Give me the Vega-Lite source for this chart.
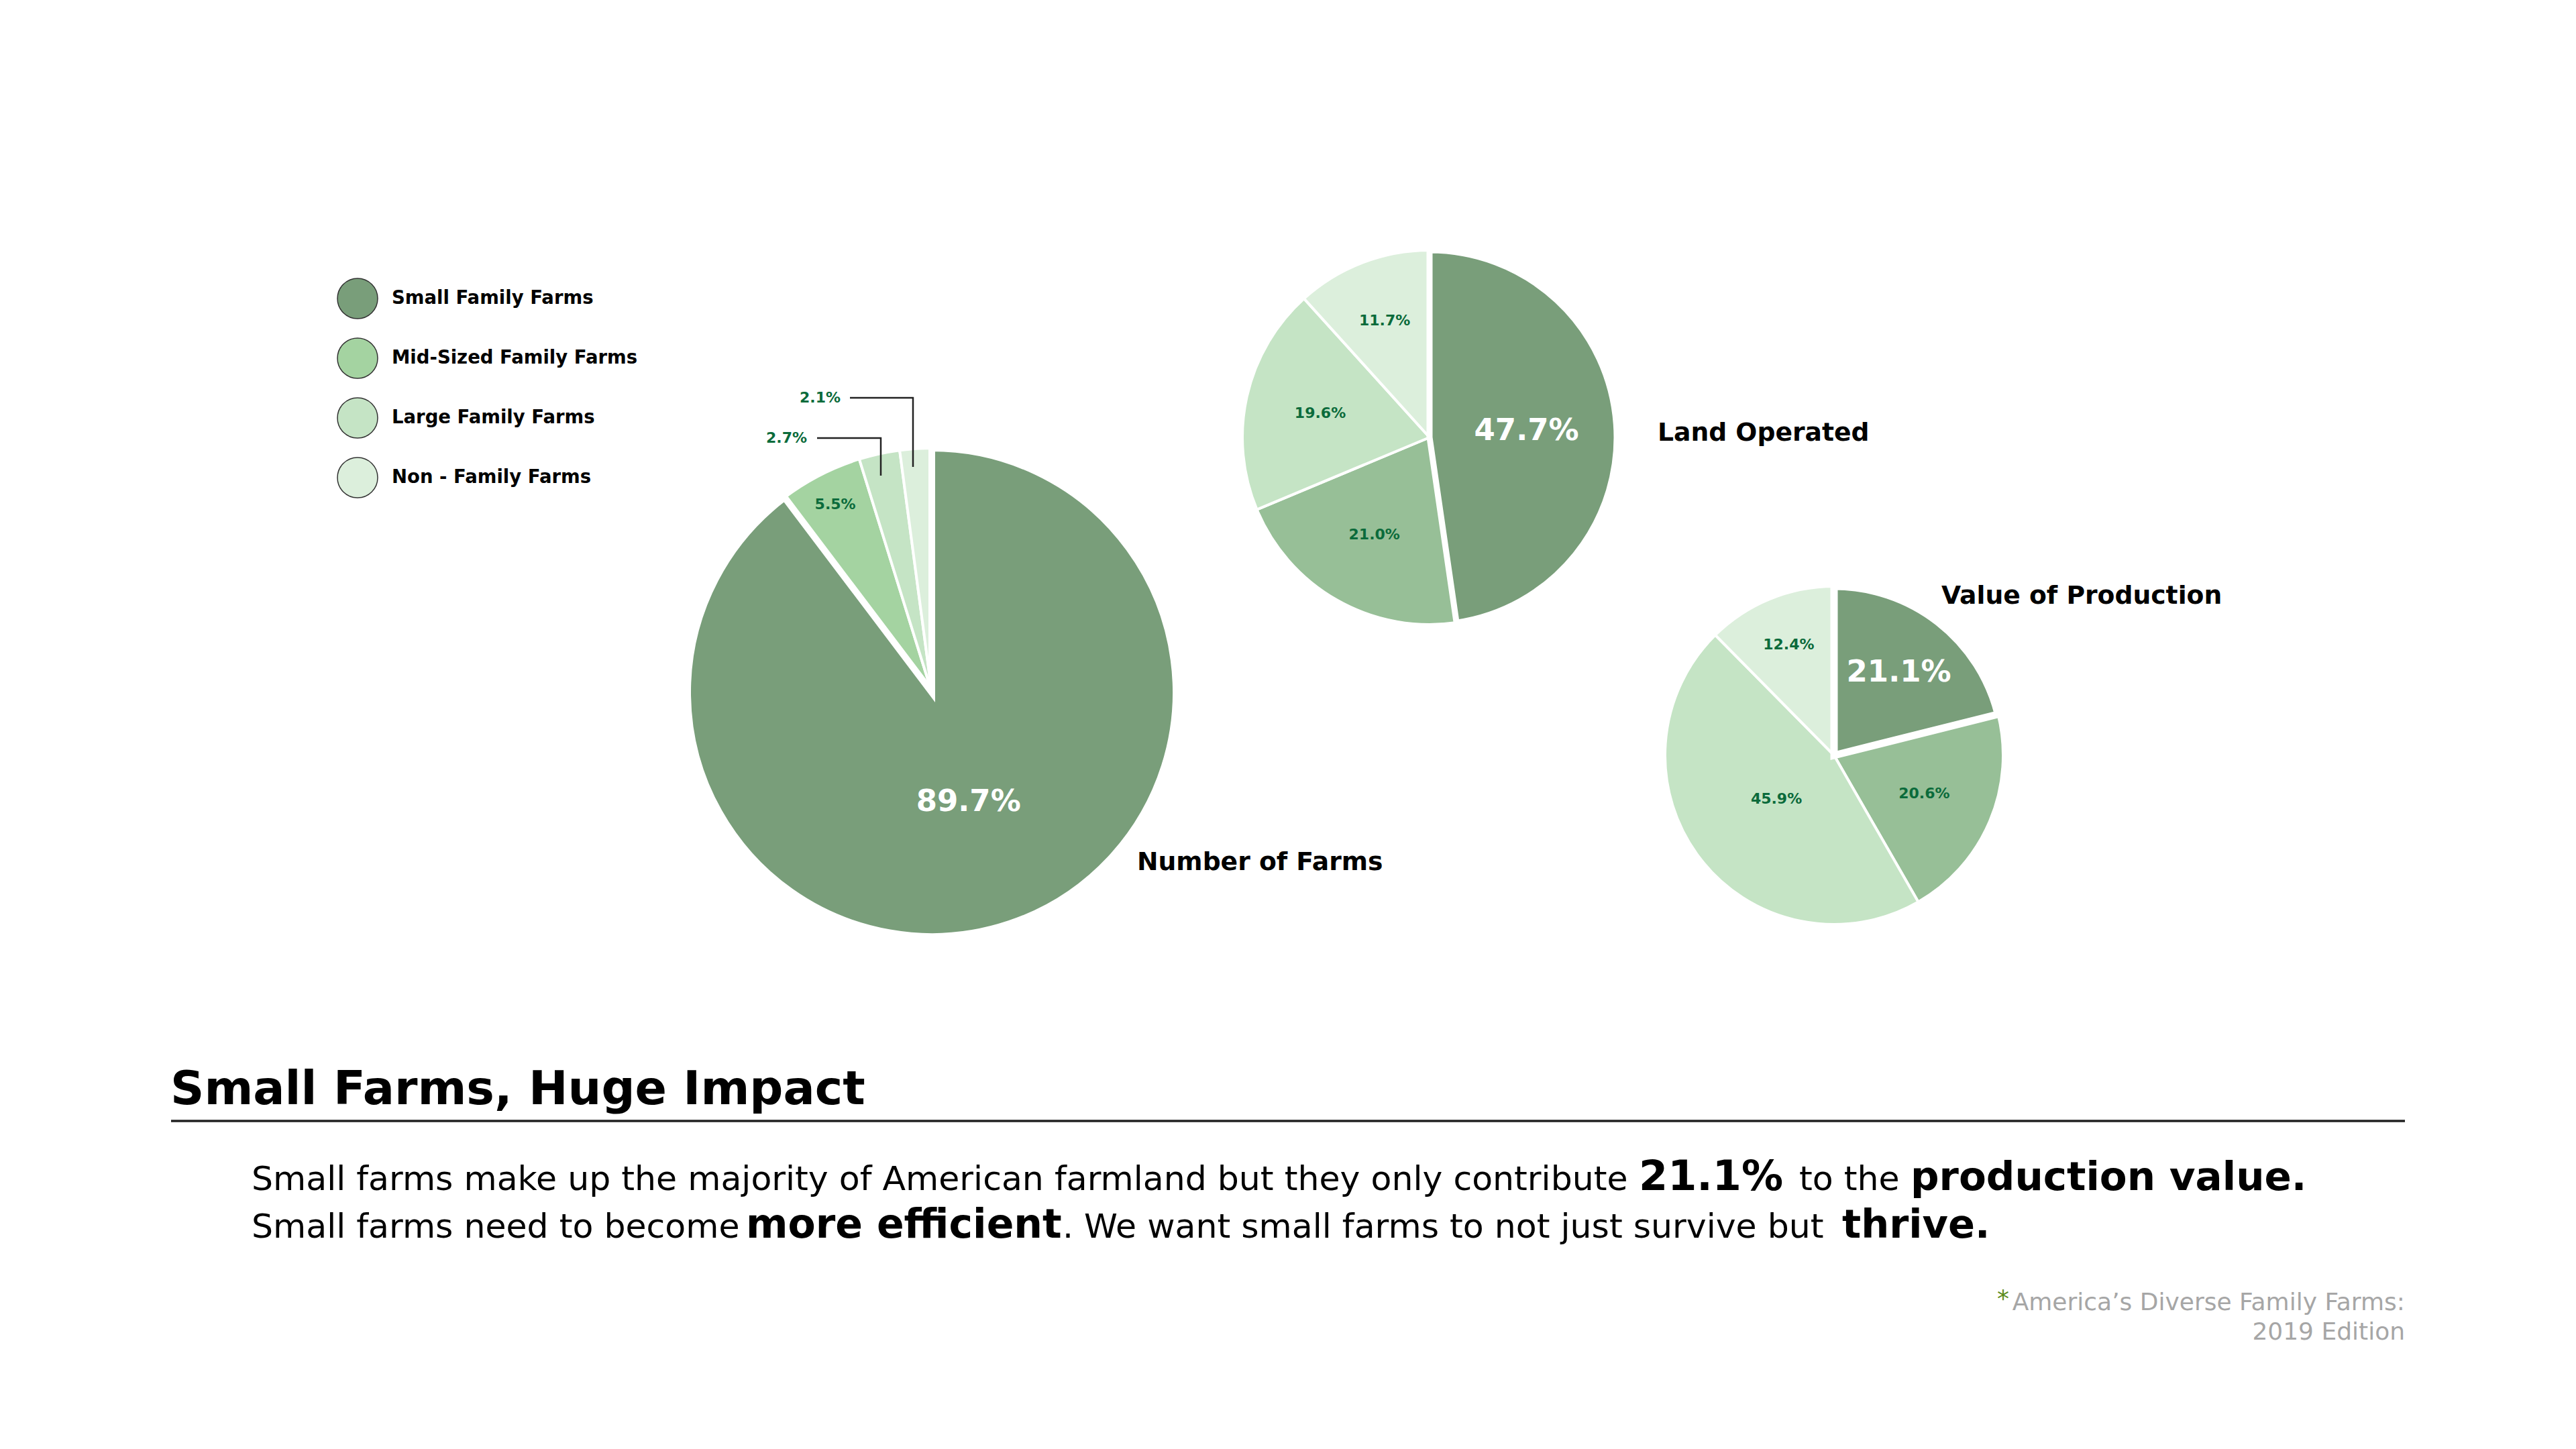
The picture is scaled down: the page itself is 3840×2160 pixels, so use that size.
{
  "$schema": "https://vega.github.io/schema/vega-lite/v6.json",
  "width": 3840,
  "height": 2160,
  "autosize": {"type": "fit", "contains": "padding"},
  "padding": 0,
  "background": "white",
  "config": {"view": {"stroke": null}, "text": {"font": "DejaVu Sans"}},
  "data": {"values": [
    {"chart": "Number of Farms", "cat": "Mid-Sized Family Farms", "k": 2, "v": 0.055},
    {"chart": "Number of Farms", "cat": "Large Family Farms", "k": 3, "v": 0.027},
    {"chart": "Number of Farms", "cat": "Non - Family Farms", "k": 4, "v": 0.021},
    {"chart": "Number of Farms", "cat": "Small Family Farms", "k": 1, "v": 0.897},
    {"chart": "Land Operated", "cat": "Mid-Sized Family Farms", "k": 2, "v": 0.210},
    {"chart": "Land Operated", "cat": "Large Family Farms", "k": 3, "v": 0.196},
    {"chart": "Land Operated", "cat": "Non - Family Farms", "k": 4, "v": 0.117},
    {"chart": "Land Operated", "cat": "Small Family Farms", "k": 1, "v": 0.477},
    {"chart": "Value of Production", "cat": "Mid-Sized Family Farms", "k": 2, "v": 0.206},
    {"chart": "Value of Production", "cat": "Large Family Farms", "k": 3, "v": 0.459},
    {"chart": "Value of Production", "cat": "Non - Family Farms", "k": 4, "v": 0.124},
    {"chart": "Value of Production", "cat": "Small Family Farms", "k": 1, "v": 0.211}
  ]},
  "resolve": {"scale": {"color": "independent"}},
  "layer": [
    {
      "transform": [{"filter": "datum.chart === 'Number of Farms'"}],
      "mark": {"type": "arc", "radius": 364, "stroke": "white"},
      "encoding": {
        "x": {"datum": 1389, "type": "quantitative", "scale": {"domain": [0, 3840], "nice": false, "zero": false}, "axis": null},
        "y": {"datum": 1032, "type": "quantitative", "scale": {"domain": [0, 2160], "nice": false, "zero": false, "reverse": true}, "axis": null},
        "theta": {"field": "v", "type": "quantitative", "stack": true, "scale": {"domain": [0, 1]}},
        "order": {"field": "k", "type": "quantitative"},
        "color": {"field": "cat", "type": "nominal",
          "scale": {"domain": ["Small Family Farms", "Mid-Sized Family Farms", "Large Family Farms", "Non - Family Farms"], "range": ["#799e7a", "#a4d3a1", "#c5e4c5", "#dcefdc"]},
          "legend": {"orient": "none", "legendX": 502, "legendY": 414, "title": null, "symbolType": "circle", "symbolSize": 3600,
            "labelFont": "DejaVu Sans", "labelFontWeight": "bold", "labelFontSize": 27.5, "labelColor": "#000000", "labelOffset": 20,
            "rowPadding": 23, "padding": 0, "labelLimit": 0, "symbolStrokeColor": "#333333", "symbolStrokeWidth": 1.5,
            "encode": {"symbols": {"update": {"stroke": {"value": "#333333"}, "strokeWidth": {"value": 1.5}, "opacity": {"value": 1}}}}}},
        "strokeWidth": {"condition": {"test": "datum.k === 1", "value": 10}, "value": 4}
      }
    },
    {
      "transform": [{"filter": "datum.chart === 'Land Operated'"}],
      "mark": {"type": "arc", "radius": 279, "stroke": "white"},
      "encoding": {
        "x": {"datum": 2131, "type": "quantitative", "scale": {"domain": [0, 3840], "nice": false, "zero": false}, "axis": null},
        "y": {"datum": 652, "type": "quantitative", "scale": {"domain": [0, 2160], "nice": false, "zero": false, "reverse": true}, "axis": null},
        "theta": {"field": "v", "type": "quantitative", "stack": true, "scale": {"domain": [0, 1]}},
        "order": {"field": "k", "type": "quantitative"},
        "color": {"field": "cat", "type": "nominal",
          "scale": {"domain": ["Small Family Farms", "Mid-Sized Family Farms", "Large Family Farms", "Non - Family Farms"], "range": ["#799e7a", "#97bf97", "#c5e4c5", "#dcefdc"]},
          "legend": null},
        "strokeWidth": {"condition": {"test": "datum.k === 1", "value": 9}, "value": 4}
      }
    },
    {
      "transform": [{"filter": "datum.chart === 'Value of Production'"}],
      "mark": {"type": "arc", "radius": 252, "stroke": "white"},
      "encoding": {
        "x": {"datum": 2734, "type": "quantitative", "scale": {"domain": [0, 3840], "nice": false, "zero": false}, "axis": null},
        "y": {"datum": 1126, "type": "quantitative", "scale": {"domain": [0, 2160], "nice": false, "zero": false, "reverse": true}, "axis": null},
        "theta": {"field": "v", "type": "quantitative", "stack": true, "scale": {"domain": [0, 1]}},
        "order": {"field": "k", "type": "quantitative"},
        "color": {"field": "cat", "type": "nominal",
          "scale": {"domain": ["Small Family Farms", "Mid-Sized Family Farms", "Large Family Farms", "Non - Family Farms"], "range": ["#799e7a", "#97bf97", "#c5e4c5", "#dcefdc"]},
          "legend": null},
        "strokeWidth": {"condition": {"test": "datum.k === 1", "value": 11}, "value": 4}
      }
    },
    {
      "transform": [{"filter": "datum.chart === 'Number of Farms'"}],
      "mark": {"type": "text", "radius": 172, "fontWeight": "bold", "fontSize": 45, "color": "white", "align": "center", "baseline": "middle"},
      "encoding": {
        "x": {"datum": 1389, "type": "quantitative", "scale": {"domain": [0, 3840], "nice": false, "zero": false}, "axis": null},
        "y": {"datum": 1032, "type": "quantitative", "scale": {"domain": [0, 2160], "nice": false, "zero": false, "reverse": true}, "axis": null},
        "theta": {"field": "v", "type": "quantitative", "stack": true, "scale": {"domain": [0, 1]}},
        "order": {"field": "k", "type": "quantitative"},
        "detail": {"field": "cat", "type": "nominal"},
        "text": {"condition": {"test": "datum.k === 1", "field": "v", "type": "quantitative", "format": ".1%"}, "value": ""}
      }
    },
    {
      "transform": [{"filter": "datum.chart === 'Number of Farms'"}],
      "mark": {"type": "text", "radius": 315, "fontWeight": "bold", "fontSize": 22, "color": "#0b6b3b", "align": "center", "baseline": "middle"},
      "encoding": {
        "x": {"datum": 1389, "type": "quantitative", "scale": {"domain": [0, 3840], "nice": false, "zero": false}, "axis": null},
        "y": {"datum": 1032, "type": "quantitative", "scale": {"domain": [0, 2160], "nice": false, "zero": false, "reverse": true}, "axis": null},
        "theta": {"field": "v", "type": "quantitative", "stack": true, "scale": {"domain": [0, 1]}},
        "order": {"field": "k", "type": "quantitative"},
        "detail": {"field": "cat", "type": "nominal"},
        "text": {"condition": {"test": "datum.k === 2", "field": "v", "type": "quantitative", "format": ".1%"}, "value": ""}
      }
    },
    {
      "transform": [{"filter": "datum.chart === 'Number of Farms' && datum.k === 3"}],
      "mark": {"type": "text", "fontWeight": "bold", "fontSize": 22, "color": "#0b6b3b", "align": "right", "baseline": "middle"},
      "encoding": {
        "x": {"datum": 1203, "type": "quantitative", "scale": {"domain": [0, 3840], "nice": false, "zero": false}, "axis": null},
        "y": {"datum": 653, "type": "quantitative", "scale": {"domain": [0, 2160], "nice": false, "zero": false, "reverse": true}, "axis": null},
        "text": {"field": "v", "type": "quantitative", "format": ".1%"}
      }
    },
    {
      "transform": [{"filter": "datum.chart === 'Number of Farms' && datum.k === 4"}],
      "mark": {"type": "text", "fontWeight": "bold", "fontSize": 22, "color": "#0b6b3b", "align": "right", "baseline": "middle"},
      "encoding": {
        "x": {"datum": 1253, "type": "quantitative", "scale": {"domain": [0, 3840], "nice": false, "zero": false}, "axis": null},
        "y": {"datum": 593, "type": "quantitative", "scale": {"domain": [0, 2160], "nice": false, "zero": false, "reverse": true}, "axis": null},
        "text": {"field": "v", "type": "quantitative", "format": ".1%"}
      }
    },
    {
      "transform": [{"filter": "datum.chart === 'Land Operated'"}],
      "mark": {"type": "text", "radius": 145, "fontWeight": "bold", "fontSize": 45, "color": "white", "align": "center", "baseline": "middle"},
      "encoding": {
        "x": {"datum": 2131, "type": "quantitative", "scale": {"domain": [0, 3840], "nice": false, "zero": false}, "axis": null},
        "y": {"datum": 652, "type": "quantitative", "scale": {"domain": [0, 2160], "nice": false, "zero": false, "reverse": true}, "axis": null},
        "theta": {"field": "v", "type": "quantitative", "stack": true, "scale": {"domain": [0, 1]}},
        "order": {"field": "k", "type": "quantitative"},
        "detail": {"field": "cat", "type": "nominal"},
        "text": {"condition": {"test": "datum.k === 1", "field": "v", "type": "quantitative", "format": ".1%"}, "value": ""}
      }
    },
    {
      "transform": [{"filter": "datum.chart === 'Land Operated'"}],
      "mark": {"type": "text", "radius": 167, "fontWeight": "bold", "fontSize": 22, "color": "#0b6b3b", "align": "center", "baseline": "middle"},
      "encoding": {
        "x": {"datum": 2131, "type": "quantitative", "scale": {"domain": [0, 3840], "nice": false, "zero": false}, "axis": null},
        "y": {"datum": 652, "type": "quantitative", "scale": {"domain": [0, 2160], "nice": false, "zero": false, "reverse": true}, "axis": null},
        "theta": {"field": "v", "type": "quantitative", "stack": true, "scale": {"domain": [0, 1]}},
        "order": {"field": "k", "type": "quantitative"},
        "detail": {"field": "cat", "type": "nominal"},
        "text": {"condition": {"test": "datum.k === 2 || datum.k === 3", "field": "v", "type": "quantitative", "format": ".1%"}, "value": ""}
      }
    },
    {
      "transform": [{"filter": "datum.chart === 'Land Operated'"}],
      "mark": {"type": "text", "radius": 186, "fontWeight": "bold", "fontSize": 22, "color": "#0b6b3b", "align": "center", "baseline": "middle"},
      "encoding": {
        "x": {"datum": 2131, "type": "quantitative", "scale": {"domain": [0, 3840], "nice": false, "zero": false}, "axis": null},
        "y": {"datum": 652, "type": "quantitative", "scale": {"domain": [0, 2160], "nice": false, "zero": false, "reverse": true}, "axis": null},
        "theta": {"field": "v", "type": "quantitative", "stack": true, "scale": {"domain": [0, 1]}},
        "order": {"field": "k", "type": "quantitative"},
        "detail": {"field": "cat", "type": "nominal"},
        "text": {"condition": {"test": "datum.k === 4", "field": "v", "type": "quantitative", "format": ".1%"}, "value": ""}
      }
    },
    {
      "transform": [{"filter": "datum.chart === 'Value of Production'"}],
      "mark": {"type": "text", "radius": 157, "fontWeight": "bold", "fontSize": 45, "color": "white", "align": "center", "baseline": "middle"},
      "encoding": {
        "x": {"datum": 2734, "type": "quantitative", "scale": {"domain": [0, 3840], "nice": false, "zero": false}, "axis": null},
        "y": {"datum": 1126, "type": "quantitative", "scale": {"domain": [0, 2160], "nice": false, "zero": false, "reverse": true}, "axis": null},
        "theta": {"field": "v", "type": "quantitative", "stack": true, "scale": {"domain": [0, 1]}},
        "order": {"field": "k", "type": "quantitative"},
        "detail": {"field": "cat", "type": "nominal"},
        "text": {"condition": {"test": "datum.k === 1", "field": "v", "type": "quantitative", "format": ".1%"}, "value": ""}
      }
    },
    {
      "transform": [{"filter": "datum.chart === 'Value of Production'"}],
      "mark": {"type": "text", "radius": 146, "fontWeight": "bold", "fontSize": 22, "color": "#0b6b3b", "align": "center", "baseline": "middle"},
      "encoding": {
        "x": {"datum": 2734, "type": "quantitative", "scale": {"domain": [0, 3840], "nice": false, "zero": false}, "axis": null},
        "y": {"datum": 1126, "type": "quantitative", "scale": {"domain": [0, 2160], "nice": false, "zero": false, "reverse": true}, "axis": null},
        "theta": {"field": "v", "type": "quantitative", "stack": true, "scale": {"domain": [0, 1]}},
        "order": {"field": "k", "type": "quantitative"},
        "detail": {"field": "cat", "type": "nominal"},
        "text": {"condition": {"test": "datum.k === 2", "field": "v", "type": "quantitative", "format": ".1%"}, "value": ""}
      }
    },
    {
      "transform": [{"filter": "datum.chart === 'Value of Production'"}],
      "mark": {"type": "text", "radius": 108, "fontWeight": "bold", "fontSize": 22, "color": "#0b6b3b", "align": "center", "baseline": "middle"},
      "encoding": {
        "x": {"datum": 2734, "type": "quantitative", "scale": {"domain": [0, 3840], "nice": false, "zero": false}, "axis": null},
        "y": {"datum": 1126, "type": "quantitative", "scale": {"domain": [0, 2160], "nice": false, "zero": false, "reverse": true}, "axis": null},
        "theta": {"field": "v", "type": "quantitative", "stack": true, "scale": {"domain": [0, 1]}},
        "order": {"field": "k", "type": "quantitative"},
        "detail": {"field": "cat", "type": "nominal"},
        "text": {"condition": {"test": "datum.k === 3", "field": "v", "type": "quantitative", "format": ".1%"}, "value": ""}
      }
    },
    {
      "transform": [{"filter": "datum.chart === 'Value of Production'"}],
      "mark": {"type": "text", "radius": 178, "fontWeight": "bold", "fontSize": 22, "color": "#0b6b3b", "align": "center", "baseline": "middle"},
      "encoding": {
        "x": {"datum": 2734, "type": "quantitative", "scale": {"domain": [0, 3840], "nice": false, "zero": false}, "axis": null},
        "y": {"datum": 1126, "type": "quantitative", "scale": {"domain": [0, 2160], "nice": false, "zero": false, "reverse": true}, "axis": null},
        "theta": {"field": "v", "type": "quantitative", "stack": true, "scale": {"domain": [0, 1]}},
        "order": {"field": "k", "type": "quantitative"},
        "detail": {"field": "cat", "type": "nominal"},
        "text": {"condition": {"test": "datum.k === 4", "field": "v", "type": "quantitative", "format": ".1%"}, "value": ""}
      }
    },
    {
      "data": {"values": [{}]},
      "mark": {"type": "rule", "color": "#222222", "strokeWidth": 2.5},
      "encoding": {
        "x": {"datum": 1218, "type": "quantitative", "scale": {"domain": [0, 3840], "nice": false, "zero": false}, "axis": null},
        "x2": {"datum": 1314},
        "y": {"datum": 653, "type": "quantitative", "scale": {"domain": [0, 2160], "nice": false, "zero": false, "reverse": true}, "axis": null}
      }
    },
    {
      "data": {"values": [{}]},
      "mark": {"type": "rule", "color": "#222222", "strokeWidth": 2.5},
      "encoding": {
        "x": {"datum": 1313, "type": "quantitative", "scale": {"domain": [0, 3840], "nice": false, "zero": false}, "axis": null},
        "y": {"datum": 652, "type": "quantitative", "scale": {"domain": [0, 2160], "nice": false, "zero": false, "reverse": true}, "axis": null},
        "y2": {"datum": 709}
      }
    },
    {
      "data": {"values": [{}]},
      "mark": {"type": "rule", "color": "#222222", "strokeWidth": 2.5},
      "encoding": {
        "x": {"datum": 1267, "type": "quantitative", "scale": {"domain": [0, 3840], "nice": false, "zero": false}, "axis": null},
        "x2": {"datum": 1362},
        "y": {"datum": 593, "type": "quantitative", "scale": {"domain": [0, 2160], "nice": false, "zero": false, "reverse": true}, "axis": null}
      }
    },
    {
      "data": {"values": [{}]},
      "mark": {"type": "rule", "color": "#222222", "strokeWidth": 2.5},
      "encoding": {
        "x": {"datum": 1361, "type": "quantitative", "scale": {"domain": [0, 3840], "nice": false, "zero": false}, "axis": null},
        "y": {"datum": 592, "type": "quantitative", "scale": {"domain": [0, 2160], "nice": false, "zero": false, "reverse": true}, "axis": null},
        "y2": {"datum": 696}
      }
    },
    {
      "data": {"values": [{}]},
      "mark": {"type": "text", "text": "Number of Farms", "fontWeight": "bold", "fontSize": 37.7, "color": "#000000", "align": "left", "baseline": "middle"},
      "encoding": {
        "x": {"datum": 1695, "type": "quantitative", "scale": {"domain": [0, 3840], "nice": false, "zero": false}, "axis": null},
        "y": {"datum": 1286, "type": "quantitative", "scale": {"domain": [0, 2160], "nice": false, "zero": false, "reverse": true}, "axis": null}
      }
    },
    {
      "data": {"values": [{}]},
      "mark": {"type": "text", "text": "Land Operated", "fontWeight": "bold", "fontSize": 37.7, "color": "#000000", "align": "left", "baseline": "middle"},
      "encoding": {
        "x": {"datum": 2471, "type": "quantitative", "scale": {"domain": [0, 3840], "nice": false, "zero": false}, "axis": null},
        "y": {"datum": 646, "type": "quantitative", "scale": {"domain": [0, 2160], "nice": false, "zero": false, "reverse": true}, "axis": null}
      }
    },
    {
      "data": {"values": [{}]},
      "mark": {"type": "text", "text": "Value of Production", "fontWeight": "bold", "fontSize": 37.7, "color": "#000000", "align": "left", "baseline": "middle"},
      "encoding": {
        "x": {"datum": 2894, "type": "quantitative", "scale": {"domain": [0, 3840], "nice": false, "zero": false}, "axis": null},
        "y": {"datum": 889, "type": "quantitative", "scale": {"domain": [0, 2160], "nice": false, "zero": false, "reverse": true}, "axis": null}
      }
    },
    {
      "data": {"values": [{}]},
      "mark": {"type": "text", "text": "Small Farms, Huge Impact", "fontWeight": "bold", "fontSize": 70, "color": "#000000", "align": "left", "baseline": "alphabetic"},
      "encoding": {
        "x": {"datum": 254, "type": "quantitative", "scale": {"domain": [0, 3840], "nice": false, "zero": false}, "axis": null},
        "y": {"datum": 1646, "type": "quantitative", "scale": {"domain": [0, 2160], "nice": false, "zero": false, "reverse": true}, "axis": null}
      }
    },
    {
      "data": {"values": [{}]},
      "mark": {"type": "rule", "color": "#222222", "strokeWidth": 3.5},
      "encoding": {
        "x": {"datum": 255, "type": "quantitative", "scale": {"domain": [0, 3840], "nice": false, "zero": false}, "axis": null},
        "x2": {"datum": 3585},
        "y": {"datum": 1671, "type": "quantitative", "scale": {"domain": [0, 2160], "nice": false, "zero": false, "reverse": true}, "axis": null}
      }
    },
    {
      "data": {"values": [{}]},
      "mark": {"type": "text", "text": "Small farms make up the majority of American farmland but they only contribute", "fontSize": 50.5, "color": "#000000", "align": "left", "baseline": "alphabetic"},
      "encoding": {
        "x": {"datum": 375, "type": "quantitative", "scale": {"domain": [0, 3840], "nice": false, "zero": false}, "axis": null},
        "y": {"datum": 1774, "type": "quantitative", "scale": {"domain": [0, 2160], "nice": false, "zero": false, "reverse": true}, "axis": null}
      }
    },
    {
      "data": {"values": [{}]},
      "mark": {"type": "text", "text": "21.1%", "fontWeight": "bold", "fontSize": 62, "color": "#000000", "align": "left", "baseline": "alphabetic"},
      "encoding": {
        "x": {"datum": 2443, "type": "quantitative", "scale": {"domain": [0, 3840], "nice": false, "zero": false}, "axis": null},
        "y": {"datum": 1774, "type": "quantitative", "scale": {"domain": [0, 2160], "nice": false, "zero": false, "reverse": true}, "axis": null}
      }
    },
    {
      "data": {"values": [{}]},
      "mark": {"type": "text", "text": "to the", "fontSize": 50.5, "color": "#000000", "align": "left", "baseline": "alphabetic"},
      "encoding": {
        "x": {"datum": 2682, "type": "quantitative", "scale": {"domain": [0, 3840], "nice": false, "zero": false}, "axis": null},
        "y": {"datum": 1774, "type": "quantitative", "scale": {"domain": [0, 2160], "nice": false, "zero": false, "reverse": true}, "axis": null}
      }
    },
    {
      "data": {"values": [{}]},
      "mark": {"type": "text", "text": "production value.", "fontWeight": "bold", "fontSize": 59.5, "color": "#000000", "align": "left", "baseline": "alphabetic"},
      "encoding": {
        "x": {"datum": 2848, "type": "quantitative", "scale": {"domain": [0, 3840], "nice": false, "zero": false}, "axis": null},
        "y": {"datum": 1774, "type": "quantitative", "scale": {"domain": [0, 2160], "nice": false, "zero": false, "reverse": true}, "axis": null}
      }
    },
    {
      "data": {"values": [{}]},
      "mark": {"type": "text", "text": "Small farms need to become", "fontSize": 50.5, "color": "#000000", "align": "left", "baseline": "alphabetic"},
      "encoding": {
        "x": {"datum": 375, "type": "quantitative", "scale": {"domain": [0, 3840], "nice": false, "zero": false}, "axis": null},
        "y": {"datum": 1845, "type": "quantitative", "scale": {"domain": [0, 2160], "nice": false, "zero": false, "reverse": true}, "axis": null}
      }
    },
    {
      "data": {"values": [{}]},
      "mark": {"type": "text", "text": "more efficient", "fontWeight": "bold", "fontSize": 60, "color": "#000000", "align": "left", "baseline": "alphabetic"},
      "encoding": {
        "x": {"datum": 1112, "type": "quantitative", "scale": {"domain": [0, 3840], "nice": false, "zero": false}, "axis": null},
        "y": {"datum": 1845, "type": "quantitative", "scale": {"domain": [0, 2160], "nice": false, "zero": false, "reverse": true}, "axis": null}
      }
    },
    {
      "data": {"values": [{}]},
      "mark": {"type": "text", "text": ". We want small farms to not just survive but", "fontSize": 50.5, "color": "#000000", "align": "left", "baseline": "alphabetic"},
      "encoding": {
        "x": {"datum": 1584, "type": "quantitative", "scale": {"domain": [0, 3840], "nice": false, "zero": false}, "axis": null},
        "y": {"datum": 1845, "type": "quantitative", "scale": {"domain": [0, 2160], "nice": false, "zero": false, "reverse": true}, "axis": null}
      }
    },
    {
      "data": {"values": [{}]},
      "mark": {"type": "text", "text": "thrive.", "fontWeight": "bold", "fontSize": 59, "color": "#000000", "align": "left", "baseline": "alphabetic"},
      "encoding": {
        "x": {"datum": 2746, "type": "quantitative", "scale": {"domain": [0, 3840], "nice": false, "zero": false}, "axis": null},
        "y": {"datum": 1845, "type": "quantitative", "scale": {"domain": [0, 2160], "nice": false, "zero": false, "reverse": true}, "axis": null}
      }
    },
    {
      "data": {"values": [{}]},
      "mark": {"type": "text", "text": "America’s Diverse Family Farms:", "fontSize": 36, "color": "#a6a6a6", "align": "right", "baseline": "middle"},
      "encoding": {
        "x": {"datum": 3585, "type": "quantitative", "scale": {"domain": [0, 3840], "nice": false, "zero": false}, "axis": null},
        "y": {"datum": 1942, "type": "quantitative", "scale": {"domain": [0, 2160], "nice": false, "zero": false, "reverse": true}, "axis": null}
      }
    },
    {
      "data": {"values": [{}]},
      "mark": {"type": "text", "text": "*", "fontSize": 36, "color": "#5b8c1c", "align": "right", "baseline": "middle"},
      "encoding": {
        "x": {"datum": 2995, "type": "quantitative", "scale": {"domain": [0, 3840], "nice": false, "zero": false}, "axis": null},
        "y": {"datum": 1937, "type": "quantitative", "scale": {"domain": [0, 2160], "nice": false, "zero": false, "reverse": true}, "axis": null}
      }
    },
    {
      "data": {"values": [{}]},
      "mark": {"type": "text", "text": "2019 Edition", "fontSize": 36, "color": "#a6a6a6", "align": "right", "baseline": "middle"},
      "encoding": {
        "x": {"datum": 3585, "type": "quantitative", "scale": {"domain": [0, 3840], "nice": false, "zero": false}, "axis": null},
        "y": {"datum": 1986, "type": "quantitative", "scale": {"domain": [0, 2160], "nice": false, "zero": false, "reverse": true}, "axis": null}
      }
    }
  ]
}
